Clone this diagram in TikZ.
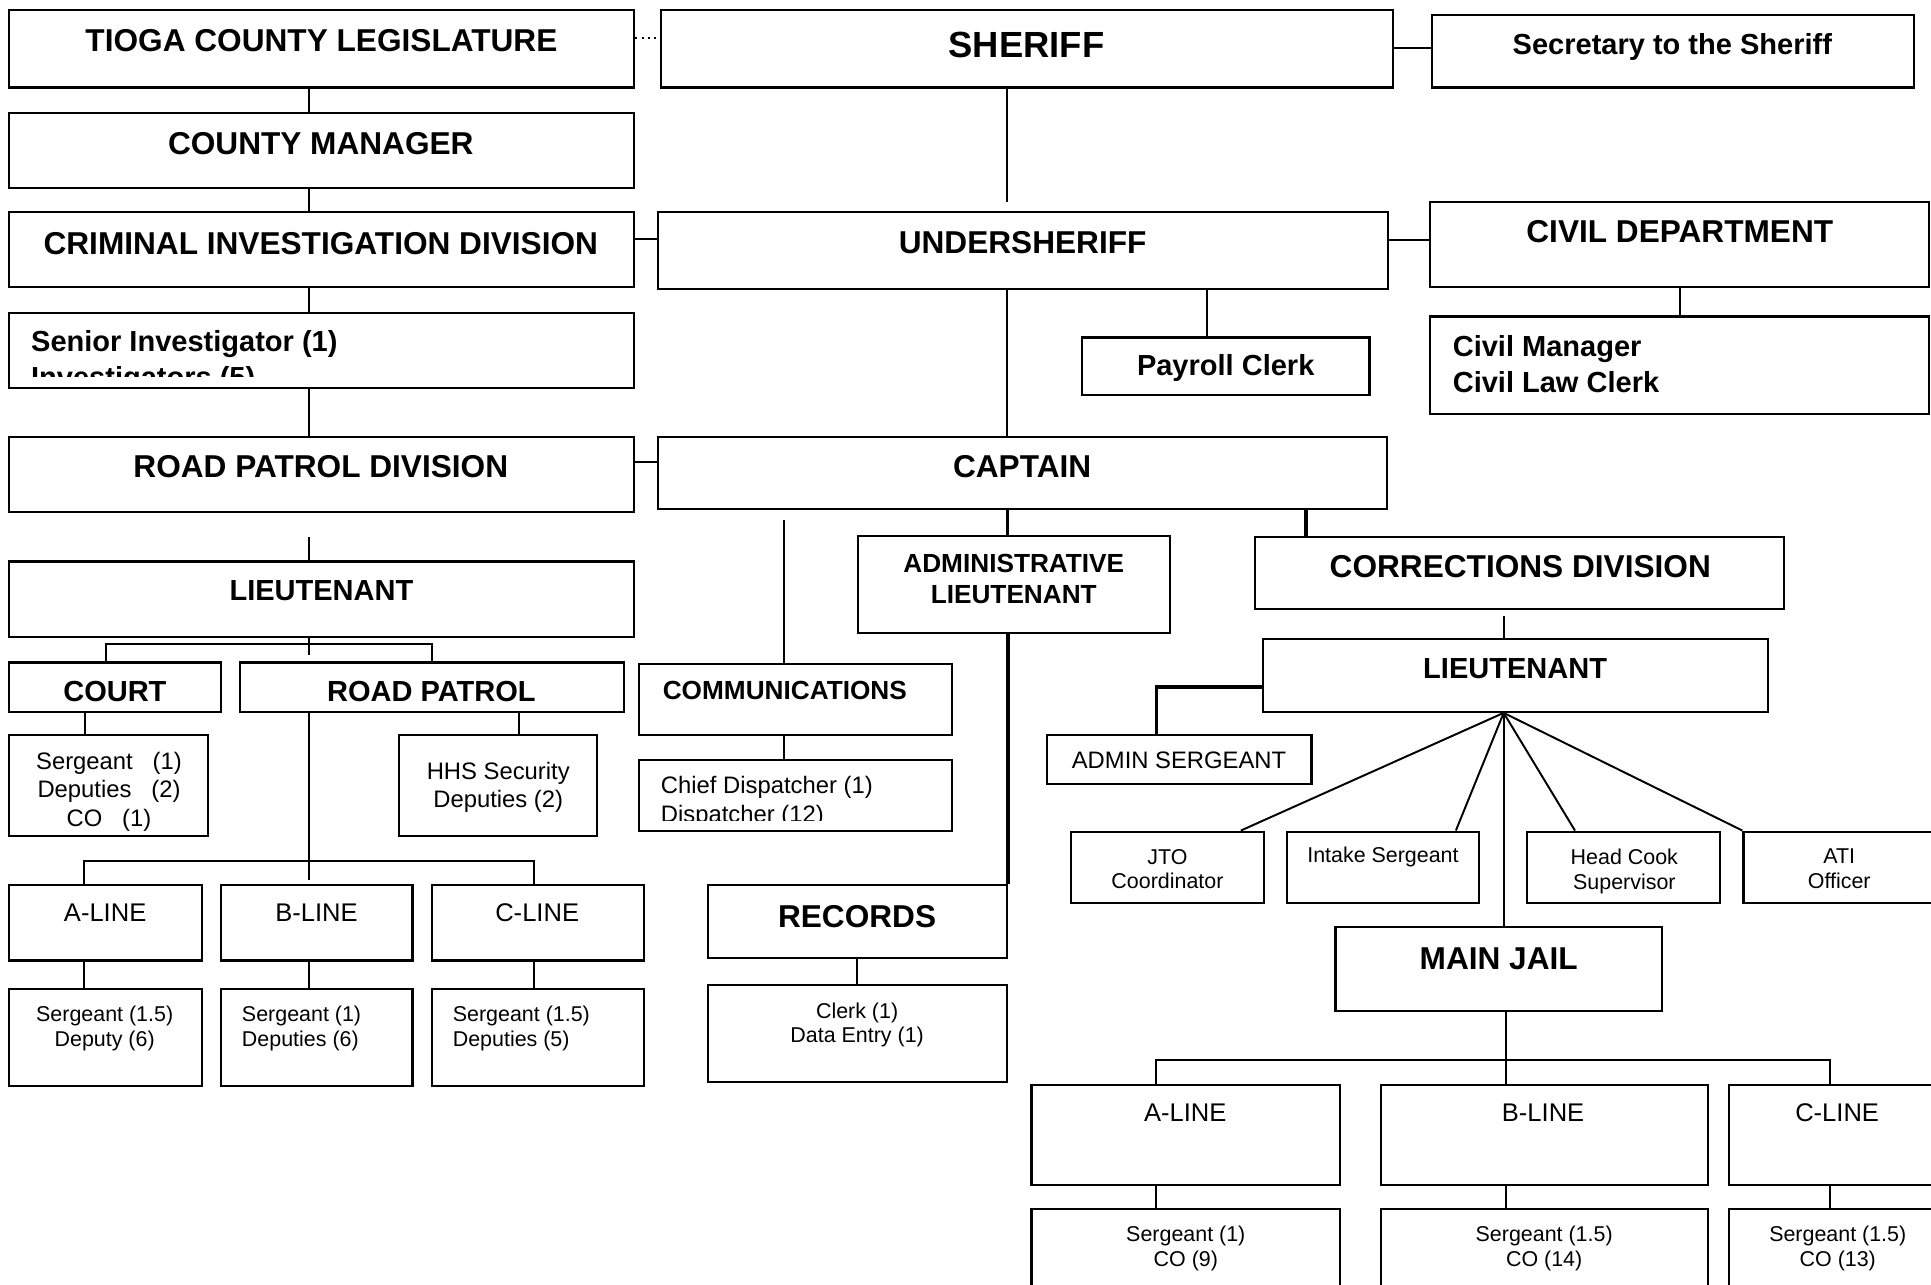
\documentclass[tikz,border=0pt]{standalone}
\usepackage{fontspec}
\setmainfont{Liberation Sans}
\usetikzlibrary{fit}
\begin{document}
\begin{tikzpicture}[x=0.01cm,y=-0.01cm,
  box/.style={draw,line width=0.5pt,inner sep=0pt},
  ln/.style={line width=0.45pt},
  thk/.style={line width=0.85pt},
  shf/.style={font=\bfseries\fontsize{8.4}{10}\selectfont,inner sep=0pt,text height=6pt,text depth=0pt},
  ttl/.style={font=\bfseries\fontsize{7.3}{9}\selectfont,inner sep=0pt,text height=5.2pt,text depth=0pt},
  hdr/.style={font=\bfseries\fontsize{6.7}{8.2}\selectfont,inner sep=0pt,text height=4.8pt,text depth=0pt},
  sub/.style={font=\bfseries\fontsize{6.05}{7.25}\selectfont,inner sep=0pt,text height=4.33pt,text depth=0pt},
  nrm/.style={font=\fontsize{5.5}{6.5}\selectfont,inner sep=0pt,text height=3.94pt,text depth=0pt},
  txs/.style={font=\fontsize{4.95}{5.7}\selectfont,inner sep=0pt,text height=3.54pt,text depth=0pt},
  lne/.style={font=\fontsize{5.9}{7}\selectfont,inner sep=0pt,text height=4.22pt,text depth=0pt},
  hdrm/.style={font=\bfseries\fontsize{6.7}{8.2}\selectfont,inner sep=0pt,align=left,anchor=north west},
  subm/.style={font=\bfseries\fontsize{6.05}{7.25}\selectfont,inner sep=0pt,align=center,anchor=north},
  nrmm/.style={font=\fontsize{5.5}{6.5}\selectfont,inner sep=0pt,align=center,anchor=north},
  txsm/.style={font=\fontsize{4.95}{5.7}\selectfont,inner sep=0pt,align=center,anchor=north}]
 \useasboundingbox (0,0) rectangle (1568,1043);
 \node[box,fit={(7,8) (515,71)}] (leg) {};
 \node[box,fit={(537,8) (1131,71)}] (sheriff) {};
 \node[box,fit={(1162.5,12) (1554,71)}] (sec) {};
 \node[box,fit={(7,91.5) (515,152.4)}] (cm) {};
 \node[box,fit={(7,172) (515,233)}] (cid) {};
 \node[box,fit={(534,172) (1127,235)}] (under) {};
 \node[box,fit={(1161,164) (1566.5,233)}] (civil) {};
 \node[box,fit={(7,254) (515,315)}] (senior) {};
 \node[box,fit={(878.6,274) (1112,321)}] (payroll) {};
 \node[box,fit={(1161,257) (1566.5,336)}] (civman) {};
 \node[box,fit={(7,354.6) (515,415.5)}] (rpd) {};
 \node[box,fit={(534,354.6) (1126.5,413.5)}] (captain) {};
 \node[box,fit={(7,456) (515,517)}] (lt) {};
 \node[box,fit={(696.4,435) (950,514)}] (adminlt) {};
 \node[box,fit={(1019.4,435.8) (1448.7,494.5)}] (corr) {};
 \node[box,fit={(7,538) (179.4,578)}] (court) {};
 \node[box,fit={(195,538) (507,578)}] (roadp) {};
 \node[box,fit={(519,539) (773,597)}] (comms) {};
 \node[box,fit={(1025.5,519) (1435.5,578)}] (corrlt) {};
 \node[box,fit={(850.5,597) (1065,636.5)}] (adminsgt) {};
 \node[box,fit={(7,597) (168.6,679)}] (courtstaff) {};
 \node[box,fit={(324,597) (485,679)}] (hhs) {};
 \node[box,fit={(519,617) (773,675)}] (chief) {};
 \node[box,fit={(869.8,675.3) (1026.5,733.5)}] (jto) {};
 \node[box,fit={(1045.3,675.3) (1201,733.5)}] (intake) {};
 \node[box,fit={(1240.2,675.3) (1396.8,733.5)}] (cook) {};
 \node[box,fit={(1415.7,675.3) (1590,733.5)}] (ati) {};
 \node[box,fit={(575,718.6) (817.4,777.6)}] (records) {};
 \node[box,fit={(575,800) (817.4,878.3)}] (clerk) {};
 \node[box,fit={(7,718.6) (164,780)}] (aline) {};
 \node[box,fit={(179.5,718.6) (335,780)}] (bline) {};
 \node[box,fit={(350.8,718.6) (523,780)}] (cline) {};
 \node[box,fit={(7,803.3) (164,881.6)}] (astaff) {};
 \node[box,fit={(179.5,803.3) (335,881.6)}] (bstaff) {};
 \node[box,fit={(350.8,803.3) (523,881.6)}] (cstaff) {};
 \node[box,fit={(1084.4,752.5) (1349.6,820.7)}] (jail) {};
 \node[box,fit={(837.6,881) (1087.8,962.2)}] (jaila) {};
 \node[box,fit={(1121.5,881) (1386.7,962.2)}] (jailb) {};
 \node[box,fit={(1404,881) (1590,962.2)}] (jailc) {};
 \node[box,fit={(837.6,982) (1087.8,1060)}] (jailsa) {};
 \node[box,fit={(1121.5,982) (1386.7,1060)}] (jailsb) {};
 \node[box,fit={(1404,982) (1590,1060)}] (jailsc) {};

 \node[ttl] (legT) at (261,32.5) {TIOGA COUNTY LEGISLATURE};
 \node[shf] (sheriffT) at (833.5,35.9) {SHERIFF};
 \node[hdr] (secT) at (1358,35.9) {Secretary to the Sheriff};
 \node[ttl] (cmT) at (260.5,116.4) {COUNTY MANAGER};
 \node[ttl] (cidT) at (260.5,197.6) {CRIMINAL INVESTIGATION DIVISION};
 \node[ttl] (underT) at (830.4,197) {UNDERSHERIFF};
 \node[ttl] (civilT) at (1364,188) {CIVIL DEPARTMENT};
 \node[hdr] (payrollT) at (995.3,296.4) {Payroll Clerk};
 \node[hdrm] (civmanT) at (1179,272) {Civil Manager\\Civil Law Clerk};
 \begin{scope}
  \clip (senior.north west) rectangle (515,306);
  \node[hdrm] (seniorT) at (24.6,268) {Senior Investigator (1)\\Investigators (5)};
 \end{scope}
 \node[ttl] (rpdT) at (260.5,379) {ROAD PATROL DIVISION};
 \node[ttl] (captainT) at (830,379) {CAPTAIN};
 \node[hdr] (ltT) at (261,479) {LIEUTENANT};
 \node[subm] (adminltT) at (823.2,449) {ADMINISTRATIVE\\LIEUTENANT};
 \node[ttl] (corrT) at (1234.5,460) {CORRECTIONS DIVISION};
 \node[hdr] (courtT) at (93.3,561) {COURT};
 \node[hdr] (roadpT) at (350.3,561) {ROAD PATROL};
 \node[sub] (commsT) at (637.3,560) {COMMUNICATIONS};
 \node[hdr] (corrltT) at (1230.3,542.7) {LIEUTENANT};
 \node[nrm] (adminsgtT) at (957.4,617) {ADMIN SERGEANT};
 \node[nrmm] (courtstaffT) at (88.5,610.3) {Sergeant\ \ \ (1)\\Deputies\ \ \ (2)\\CO\ \ \ (1)};
 \node[nrmm] (hhsT) at (404.6,618.4) {HHS Security\\Deputies (2)};
 \begin{scope}
  \clip (chief.north west) rectangle (773,666);
  \node[nrmm,align=left,anchor=north west] (chiefT) at (536,630) {Chief Dispatcher (1)\\Dispatcher (12)};
 \end{scope}
 \node[txsm] (jtoT) at (948,688.8) {JTO\\Coordinator};
 \node[txs] (intakeT) at (1123,694.3) {Intake Sergeant};
 \node[txsm] (cookT) at (1319,688.8) {Head Cook\\Supervisor};
 \node[txsm] (atiT) at (1493.5,688.8) {ATI\\Officer};
 \node[lne] (alineT) at (85.4,740.5) {A-LINE};
 \node[lne] (blineT) at (257,740.5) {B-LINE};
 \node[lne] (clineT) at (436.2,740.5) {C-LINE};
 \node[txsm] (astaffT) at (85,816.1) {Sergeant (1.5)\\Deputy (6)};
 \node[txsm,align=left,anchor=north west] (bstaffT) at (195.8,816.1) {Sergeant (1)\\Deputies (6)};
 \node[txsm,align=left,anchor=north west] (cstaffT) at (367,816.1) {Sergeant (1.5)\\Deputies (5)};
 \node[ttl] (recordsT) at (696,744) {RECORDS};
 \node[txsm] (clerkT) at (696,813.4) {Clerk (1)\\Data Entry (1)};
 \node[ttl] (jailT) at (1217,777.8) {MAIN JAIL};
 \node[lne] (jailaT) at (962.4,903) {A-LINE};
 \node[lne] (jailbT) at (1253,903) {B-LINE};
 \node[lne] (jailcT) at (1491.8,903) {C-LINE};
 \node[txsm] (jailsaT) at (962.9,994.7) {Sergeant (1)\\CO (9)};
 \node[txsm] (jailsbT) at (1253.9,994.7) {Sergeant (1.5)\\CO (14)};
 \node[txsm] (jailscT) at (1492.3,994.7) {Sergeant (1.5)\\CO (13)};

 \draw[ln,densely dotted] (leg.east |- 0,31) -- (sheriff.west |- 0,31);
 \draw[ln] (sheriff.east |- 0,39) -- (sec.west |- 0,39);
 \draw[ln] (leg.south -| 251,0) -- (cm.north -| 251,0);
 \draw[ln] (cm.south -| 251,0) -- (cid.north -| 251,0);
 \draw[ln] (cid.south -| 251,0) -- (senior.north -| 251,0);
 \draw[ln] (senior.south -| 251,0) -- (rpd.north -| 251,0);
 \draw[ln,shorten <=2mm] (rpd.south -| 251,0) -- (lt.north -| 251,0);
 \draw[ln] (cid.east |- 0,194) -- (under.west |- 0,194);
 \draw[ln] (under.east |- 0,195) -- (civil.west |- 0,195);
 \draw[ln] (rpd.east |- 0,375) -- (captain.west |- 0,375);
 \draw[ln,shorten >=0.7mm] (sheriff.south -| 818,0) -- (under.north -| 818,0);
 \draw[ln] (under.south -| 980,0) -- (payroll.north -| 980,0);
 \draw[ln] (under.south -| 818,0) -- (captain.north -| 818,0);
 \draw[ln] (civil.south -| 1364,0) -- (civman.north -| 1364,0);
 \draw[ln,shorten <=0.75mm] (captain.south -| 636.5,0) -- (comms.north -| 636.5,0);
 \draw[ln] (comms.south -| 636.5,0) -- (chief.north -| 636.5,0);
 \draw[thk] (captain.south -| 818,0) -- (adminlt.north -| 818,0);
 \draw[thk] (captain.south -| 1060.5,0) -- (corr.north -| 1060.5,0);
 \draw[thk] (adminlt.south -| records.north east) -- (records.north east);
 \draw[ln] (records.south -| 696,0) -- (clerk.north -| 696,0);
 \draw[ln,shorten <=0.45mm] (corr.south -| 1221,0) -- (corrlt.north -| 1221,0);
 \draw[thk] (corrlt.west |- 0,557.6) -| (adminsgt.north -| 939,0);

 \coordinate (ltbar) at (251,523);
 \coordinate (ltstem) at (251,532);
 \draw[ln] (lt.south -| ltstem) -- (ltstem);
 \draw[ln] (court.north -| 86,0) |- (ltbar) -| (roadp.north -| 350.5,0);
 \draw[ln] (court.south -| 69,0) -- (courtstaff.north -| 69,0);
 \draw[ln] (roadp.south -| 421.6,0) -- (hhs.north -| 421.6,0);

 \coordinate (rpbar) at (251,699);
 \coordinate (rpstem) at (251,714.6);
 \draw[ln] (roadp.south -| rpstem) -- (rpstem);
 \draw[ln] (aline.north -| 68.5,0) |- (rpbar) -| (cline.north -| 433.5,0);
 \draw[ln] (aline.south -| 68.5,0) -- (astaff.north -| 68.5,0);
 \draw[ln] (bline.south -| 251,0) -- (bstaff.north -| 251,0);
 \draw[ln] (cline.south -| 433.5,0) -- (cstaff.north -| 433.5,0);

 \draw[ln] (corrlt.south -| 1221,0) -- (jto.north -| 1007.6,0);
 \draw[ln] (corrlt.south -| 1221,0) -- (intake.north -| 1182.2,0);
 \draw[ln] (corrlt.south -| 1221,0) -- (cook.north -| 1278.9,0);
 \draw[ln] (corrlt.south -| 1221,0) -- (ati.north west);
 \draw[ln] (corrlt.south -| 1221,0) -- (jail.north -| 1221,0);

 \coordinate (jbar) at (1222.8,860.7);
 \draw[ln] (jail.south -| jbar) -- (jailb.north -| jbar);
 \draw[ln] (jaila.north -| 938.8,0) |- (jbar) -| (jailc.north -| 1486,0);
 \draw[ln] (jaila.south -| 938.8,0) -- (jailsa.north -| 938.8,0);
 \draw[ln] (jailb.south -| 1222.8,0) -- (jailsb.north -| 1222.8,0);
 \draw[ln] (jailc.south -| 1486,0) -- (jailsc.north -| 1486,0);
\end{tikzpicture}
\end{document}
